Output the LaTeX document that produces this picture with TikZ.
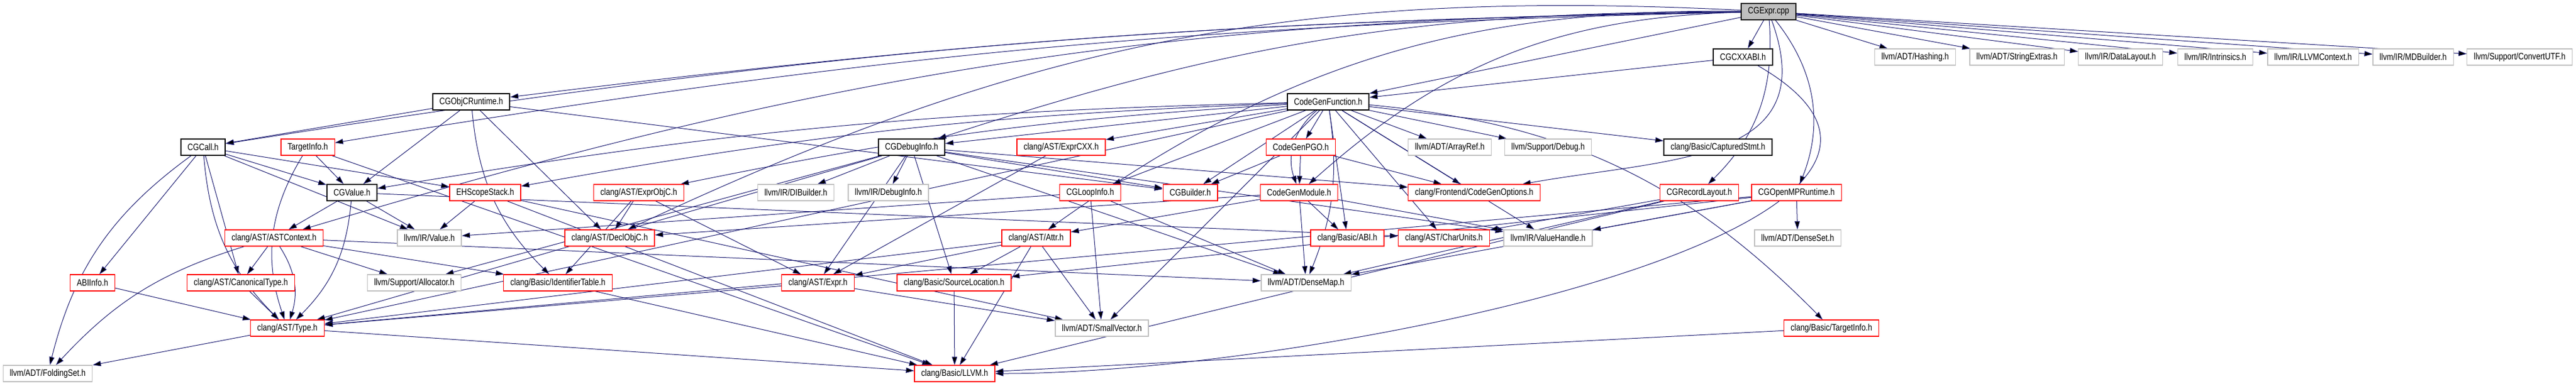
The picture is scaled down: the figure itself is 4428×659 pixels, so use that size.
\documentclass[tikz,border=0pt]{standalone}
\usepackage{fontspec}
\setmainfont{Liberation Sans}[FakeStretch=0.82]
\usetikzlibrary{arrows.meta,backgrounds}
\definecolor{edgeblue}{HTML}{191970}
\definecolor{boxgray}{HTML}{BFBFBF}

\begin{document}
\begin{tikzpicture}[x=0.1pt, y=0.1pt, font=\fontsize{1.6}{1.8}\selectfont,
  box/.style={draw, fill=white, text=black, minimum height=2.8pt, inner xsep=1.15pt, inner ysep=0pt, line width=0.13pt},
  main node/.style={box, draw=black, fill=boxgray, line width=0.16pt},
  doc node/.style={box, draw=black, line width=0.16pt},
  red node/.style={box, draw=red},
  ext node/.style={box, draw=boxgray},
  dep/.style={draw=edgeblue, line width=0.1pt, -{Triangle[length=1.4pt,width=0.9pt]}}]
\useasboundingbox (0,0) rectangle (4428,659);
% row 0 and 1
\node[main node] (ce) at (3040,639) {CGExpr.cpp};
\node[doc node] (cxxabi) at (2996,561) {CGCXXABI.h};
\node[ext node] (hashing) at (3292,561) {llvm/ADT/Hashing.h};
\node[ext node] (strext) at (3467,561) {llvm/ADT/StringExtras.h};
\node[ext node] (datalayout) at (3645,561) {llvm/IR/DataLayout.h};
\node[ext node] (intrinsics) at (3808,561) {llvm/IR/Intrinsics.h};
\node[ext node] (llvmctx) at (3976,561) {llvm/IR/LLVMContext.h};
\node[ext node] (mdbuilder) at (4148,561) {llvm/IR/MDBuilder.h};
\node[ext node] (convutf) at (4331,561) {llvm/Support/ConvertUTF.h};
% row 2 and 3
\node[doc node] (objcrt) at (810,484) {CGObjCRuntime.h};
\node[doc node] (cgf) at (2283,484) {CodeGenFunction.h};
\node[doc node] (cgcall) at (349,406) {CGCall.h};
\node[red node] (tinfo) at (529,406) {TargetInfo.h};
\node[doc node] (dbg) at (1567,406) {CGDebugInfo.h};
\node[red node] (exprcxx) at (1824,406) {clang/AST/ExprCXX.h};
\node[red node] (pgo) at (2236,406) {CodeGenPGO.h};
\node[ext node] (arrayref) at (2492,406) {llvm/ADT/ArrayRef.h};
\node[ext node] (debug) at (2661,406) {llvm/Support/Debug.h};
\node[doc node] (captured) at (2953,406) {clang/Basic/CapturedStmt.h};
% row 4
\node[doc node] (cgvalue) at (605,328) {CGValue.h};
\node[red node] (ehscope) at (834,328) {EHScopeStack.h};
\node[red node] (exprobjc) at (1098,328) {clang/AST/ExprObjC.h};
\node[ext node] (dibuilder) at (1368,328) {llvm/IR/DIBuilder.h};
\node[ext node] (debuginfo) at (1527,328) {llvm/IR/DebugInfo.h};
\node[red node] (loopinfo) at (1874,328) {CGLoopInfo.h};
\node[red node] (builder) at (2046,328) {CGBuilder.h};
\node[red node] (cgm) at (2233,328) {CodeGenModule.h};
\node[red node] (cgopts) at (2534,328) {clang/Frontend/CodeGenOptions.h};
\node[red node] (reclayout) at (2921,328) {CGRecordLayout.h};
\node[red node] (openmp) at (3088,328) {CGOpenMPRuntime.h};
% row 5
\node[red node] (astctx) at (471,250) {clang/AST/ASTContext.h};
\node[ext node] (irvalue) at (738,250) {llvm/IR/Value.h};
\node[red node] (declobjc) at (1048,250) {clang/AST/DeclObjC.h};
\node[red node] (attr) at (1781,250) {clang/AST/Attr.h};
\node[red node] (abi) at (2316,250) {clang/Basic/ABI.h};
\node[red node] (charunits) at (2482,250) {clang/AST/CharUnits.h};
\node[ext node] (vhandle) at (2661,250) {llvm/IR/ValueHandle.h};
\node[ext node] (denseset) at (3090,250) {llvm/ADT/DenseSet.h};
% row 6
\node[red node] (abiinfo) at (159,173) {ABIInfo.h};
\node[red node] (canon) at (414,173) {clang/AST/CanonicalType.h};
\node[ext node] (alloc) at (712,173) {llvm/Support/Allocator.h};
\node[red node] (identtab) at (959,173) {clang/Basic/IdentifierTable.h};
\node[red node] (expr) at (1406,173) {clang/AST/Expr.h};
\node[red node] (srcloc) at (1640,173) {clang/Basic/SourceLocation.h};
\node[ext node] (densemap) at (2245,173) {llvm/ADT/DenseMap.h};
% row 7 and 8
\node[red node] (type) at (494,95) {clang/AST/Type.h};
\node[ext node] (smallvec) at (1894,95) {llvm/ADT/SmallVector.h};
\node[red node] (btinfo) at (3148,95) {clang/Basic/TargetInfo.h};
\node[ext node] (foldset) at (82,17) {llvm/ADT/FoldingSet.h};
\node[red node] (llvmh) at (1641,17) {clang/Basic/LLVM.h};

\begin{scope}[on background layer]
\path[dep]
% CGExpr.cpp
(ce) edge (cxxabi)
(ce) edge (hashing)
(ce) edge (strext)
(ce) edge (datalayout)
(ce) edge (intrinsics)
(ce) edge (llvmctx)
(ce) edge (mdbuilder)
(ce) edge (convutf)
(ce) edge (cgf)
(ce) edge[bend right=4] (cgcall)
(ce) edge[bend right=4] (tinfo)
(ce) edge[bend right=8] (astctx)
(ce) edge[bend right=3] (objcrt)
(ce) edge[bend right=9] (dbg)
(ce) edge[bend right=14] (declobjc)
(ce) edge[bend right=18] (attr)
(ce) edge[bend right=20] (cgm)
(ce) edge[out=-70, in=10, looseness=1.3] (cgopts)
(ce) edge[bend left=25] (reclayout)
(ce) edge[bend left=30] (openmp)
% CGCXXABI.h
(cxxabi) edge (cgf)
(cxxabi) edge[out=-30, in=0] (llvmh)
% CodeGenFunction.h
(cgf) edge (builder)
(cgf) edge (dbg)
(cgf) edge (loopinfo)
(cgf) edge[bend right=4] (cgvalue)
(cgf) edge[bend right=35] (cgm)
(cgf) edge (pgo)
(cgf) edge[bend right=4] (ehscope)
(cgf) edge (charunits)
(cgf) edge (exprcxx)
(cgf) edge[bend right=4] (exprobjc)
(cgf) edge (type)
(cgf) edge (abi)
(cgf) edge (captured)
(cgf) edge[bend left=20] (btinfo)
(cgf) edge (cgopts)
(cgf) edge (arrayref)
(cgf) edge[bend left=15] (densemap)
(cgf) edge (smallvec)
(cgf) edge (vhandle)
(cgf) edge (debug)
% CGObjCRuntime.h
(objcrt) edge (builder)
(objcrt) edge (cgcall)
(objcrt) edge (cgvalue)
(objcrt) edge (declobjc)
(objcrt) edge[bend right=20] (identtab)
% CGCall.h
(cgcall) edge (cgvalue)
(cgcall) edge (ehscope)
(cgcall) edge (canon)
(cgcall) edge[bend right=20] (type)
(cgcall) edge[bend right=20] (foldset)
(cgcall) edge (irvalue)
(cgcall) edge (abiinfo)
% TargetInfo.h
(tinfo) edge (cgvalue)
(tinfo) edge[bend right=25] (type)
(tinfo) edge (llvmh)
% CGDebugInfo.h
(dbg) edge (builder)
(dbg) edge (expr)
(dbg) edge (type)
(dbg) edge (srcloc)
(dbg) edge (cgopts)
(dbg) edge (densemap)
(dbg) edge (dibuilder)
(dbg) edge (debuginfo)
(dbg) edge (vhandle)
(dbg) edge (alloc)
% CodeGenPGO.h
(pgo) edge (builder)
(pgo) edge (cgm)
(pgo) edge (cgopts)
% CGValue.h
(cgvalue) edge (astctx)
(cgvalue) edge (charunits)
(cgvalue) edge[bend left=20] (type)
(cgvalue) edge (irvalue)
% EHScopeStack.h
(ehscope) edge (llvmh)
(ehscope) edge (smallvec)
(ehscope) edge (irvalue)
% ExprObjC.h, ExprCXX.h
(exprobjc) edge (declobjc)
(exprobjc) edge (identtab)
(exprobjc) edge (expr)
(exprcxx) edge (expr)
% CGLoopInfo.h
(loopinfo) edge (irvalue)
(loopinfo) edge (smallvec)
(loopinfo) edge (densemap)
% CodeGenModule.h
(cgm) edge (attr)
(cgm) edge (declobjc)
(cgm) edge (abi)
(cgm) edge (densemap)
(cgm) edge (vhandle)
% CGRecordLayout.h
(reclayout) edge (charunits)
(reclayout) edge (llvmh)
(reclayout) edge (densemap)
% CGOpenMPRuntime.h
(openmp) edge (type)
(openmp) edge (srcloc)
(openmp) edge (densemap)
(openmp) edge (denseset)
(openmp) edge (vhandle)
% ASTContext.h
(astctx) edge (canon)
(astctx) edge[bend left=25] (type)
(astctx) edge (identtab)
(astctx) edge (densemap)
(astctx) edge[bend right=15] (foldset)
(astctx) edge (alloc)
% Attr.h
(attr) edge (expr)
(attr) edge (type)
(attr) edge (srcloc)
(attr) edge (smallvec)
(attr) edge (llvmh)
% the rest
(abiinfo) edge (type)
(canon) edge (type)
(identtab) edge (llvmh)
(srcloc) edge (llvmh)
(expr) edge (type)
(expr) edge (smallvec)
(type) edge (foldset)
(type) edge (llvmh)
(btinfo) edge (llvmh);
\end{scope}
\end{tikzpicture}
\end{document}
